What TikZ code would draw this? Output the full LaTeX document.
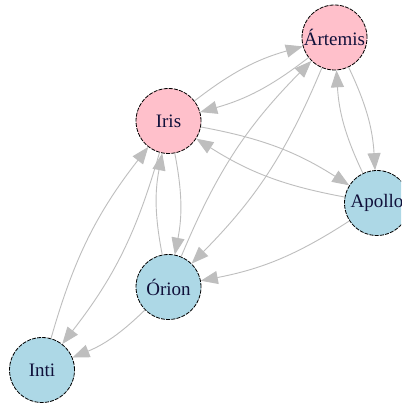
\documentclass[tikz,border=0pt]{standalone}
\usepackage{fontspec}
\setmainfont{Liberation Serif}
\usetikzlibrary{arrows.meta}
\definecolor{nodepink}{HTML}{FFC0CB}
\definecolor{nodeblue}{HTML}{ADD8E6}
\definecolor{edgegray}{HTML}{BEBEBE}
\definecolor{labelblue}{HTML}{10103A}
\tikzset{
  vert/.style={circle, draw=black, line width=0.8pt, dash pattern=on 4pt off 1.2pt,
    minimum size=65pt, inner sep=0pt, text=labelblue,
    font=\fontsize{19pt}{21pt}\selectfont},
  pinkv/.style={vert, fill=nodepink},
  bluev/.style={vert, fill=nodeblue},
  edge/.style={draw=edgegray, line width=0.9pt,
    -{Triangle[length=17pt,width=13pt]}, bend left=11}
}
\begin{document}
\begin{tikzpicture}[x=1pt,y=-1pt]
\useasboundingbox (0,0) rectangle (401,403);
\clip (0,0) rectangle (401,403);
\fill[white] (0,0) rectangle (401,403);
\node[pinkv] (art) at (334.5,37.5) {Ártemis};
\node[pinkv] (iris) at (168.5,121) {Iris};
\node[bluev] (apo) at (377,203) {Apollo};
\node[bluev] (ori) at (168.5,287) {Órion};
\node[bluev] (inti) at (42,370) {Inti};
\draw[edge] (iris) to (art);
\draw[edge] (art) to (iris);
\draw[edge] (art) to (apo);
\draw[edge] (apo) to (art);
\draw[edge] (iris) to (apo);
\draw[edge] (apo) to (iris);
\draw[edge] (iris) to (ori);
\draw[edge] (ori) to (iris);
\draw[edge] (iris) to (inti);
\draw[edge] (inti) to (iris);
\draw[edge] (art) to (ori);
\draw[edge] (ori) to (art);
\draw[edge] (apo) to (ori);
\draw[edge] (ori) to (inti);
\end{tikzpicture}
\end{document}
